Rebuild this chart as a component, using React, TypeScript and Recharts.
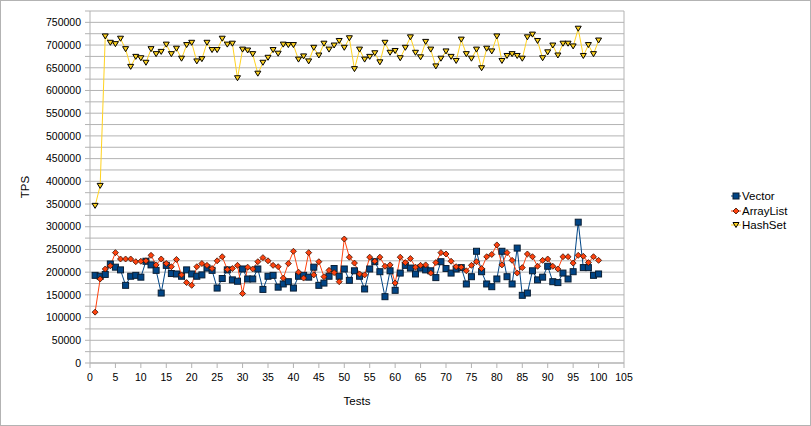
import { LineChart, Line, CartesianGrid, XAxis, YAxis, Legend, ReferenceLine } from 'recharts';

const tests = Array.from({ length: 100 }, (_, i) => i + 1);

const vectorTps = [
  193000, 191000, 195000, 218000, 211000, 205000, 171000, 191000, 193000, 189000,
  224000, 216000, 204000, 154000, 215000, 197000, 196000, 191000, 205000, 196000,
  191000, 194000, 209000, 204000, 165000, 186000, 205000, 183000, 180000, 207000,
  185000, 185000, 207000, 162000, 191000, 193000, 167000, 174000, 179000, 165000,
  191000, 193000, 189000, 211000, 171000, 176000, 191000, 208000, 191000, 207000,
  182000, 203000, 191000, 163000, 207000, 223000, 201000, 146000, 203000, 160000,
  198000, 215000, 209000, 196000, 209000, 205000, 203000, 188000, 223000, 208000,
  198000, 207000, 210000, 174000, 190000, 246000, 201000, 174000, 168000, 185000,
  246000, 190000, 174000, 253000, 149000, 154000, 203000, 183000, 189000, 213000,
  179000, 177000, 198000, 185000, 201000, 310000, 210000, 210000, 193000, 196000,
];

const arrayListTps = [
  112000, 185000, 207000, 214000, 243000, 229000, 229000, 229000, 223000, 224000,
  225000, 237000, 216000, 229000, 219000, 212000, 228000, 194000, 177000, 171000,
  212000, 219000, 215000, 208000, 225000, 234000, 206000, 208000, 215000, 153000,
  211000, 207000, 223000, 232000, 225000, 215000, 212000, 187000, 219000, 246000,
  200000, 187000, 243000, 194000, 223000, 190000, 204000, 199000, 179000, 273000,
  233000, 220000, 196000, 194000, 233000, 224000, 233000, 213000, 216000, 176000,
  233000, 221000, 230000, 211000, 215000, 216000, 198000, 221000, 243000, 240000,
  224000, 212000, 211000, 203000, 215000, 223000, 208000, 234000, 239000, 260000,
  216000, 243000, 226000, 198000, 210000, 240000, 234000, 213000, 226000, 229000,
  213000, 207000, 234000, 234000, 220000, 237000, 235000, 221000, 234000, 226000,
];

const hashSetTps = [
  346000, 390000, 719000, 705000, 702000, 714000, 691000, 652000, 674000, 671000,
  661000, 691000, 680000, 685000, 701000, 680000, 692000, 670000, 700000, 705000,
  664000, 669000, 705000, 689000, 689000, 714000, 701000, 703000, 627000, 690000,
  688000, 680000, 637000, 661000, 672000, 689000, 681000, 701000, 700000, 700000,
  668000, 675000, 664000, 694000, 677000, 703000, 690000, 699000, 709000, 694000,
  715000, 647000, 690000, 668000, 674000, 682000, 662000, 705000, 683000, 687000,
  671000, 694000, 717000, 683000, 673000, 707000, 690000, 653000, 670000, 686000,
  674000, 665000, 712000, 680000, 670000, 690000, 649000, 692000, 686000, 719000,
  665000, 676000, 680000, 676000, 670000, 717000, 723000, 709000, 671000, 684000,
  699000, 677000, 703000, 703000, 697000, 736000, 676000, 700000, 680000, 710000,
];

const xTicks = [0, 5, 10, 15, 20, 25, 30, 35, 40, 45, 50, 55, 60, 65, 70, 75, 80, 85, 90, 95, 100, 105];
const yTicks = Array.from({ length: 32 }, (_, i) => i * 25000);

const data = tests.map((t, i) => ({
  test: t,
  Vector: vectorTps[i],
  ArrayList: arrayListTps[i],
  HashSet: hashSetTps[i],
}));

const FONT = "'Liberation Sans', Arial, sans-serif";
const GRID = '#b3b3b3';

const squareDot = (p: any) => (
  <rect key={p.index} x={p.cx - 3} y={p.cy - 3} width={6} height={6} fill="#004586" stroke="#0a1e33" strokeWidth={1} />
);

const diamondDot = (p: any) => (
  <polygon
    key={p.index}
    points={`${p.cx},${p.cy - 3} ${p.cx + 3},${p.cy} ${p.cx},${p.cy + 3} ${p.cx - 3},${p.cy}`}
    fill="#ff420e"
    stroke="#3a1000"
    strokeWidth={0.8}
  />
);

const triangleDot = (p: any) => (
  <polygon
    key={p.index}
    points={`${p.cx - 3},${p.cy - 2.5} ${p.cx + 3},${p.cy - 2.5} ${p.cx},${p.cy + 2.5}`}
    fill="#ffd320"
    stroke="#000"
    strokeWidth={1}
  />
);

const legendItems = [
  { name: 'Vector', color: '#004586', shape: 'square' },
  { name: 'ArrayList', color: '#ff420e', shape: 'diamond' },
  { name: 'HashSet', color: '#ffd320', shape: 'triangle' },
];

const LegendIcon = ({ color, shape }: any) => (
  <svg width={10} height={8} style={{ display: 'block' }}>
    <line x1={0} y1={4} x2={10} y2={4} stroke={color} strokeWidth={1} />
    {shape === 'square' && <rect x={2} y={1} width={6} height={6} fill={color} stroke="#0a1e33" />}
    {shape === 'diamond' && <polygon points="5,1 8,4 5,7 2,4" fill={color} stroke="#3a1000" strokeWidth={0.8} />}
    {shape === 'triangle' && <polygon points="2,1.5 8,1.5 5,6.5" fill={color} stroke="#000" />}
  </svg>
);

const renderLegend = () => (
  <div style={{ fontFamily: FONT, fontSize: 11.5, color: '#000' }}>
    {legendItems.map((it) => (
      <div key={it.name} style={{ display: 'flex', alignItems: 'center', height: 14.5 }}>
        <LegendIcon color={it.color} shape={it.shape} />
        <span style={{ marginLeft: 1 }}>{it.name}</span>
      </div>
    ))}
  </div>
);

const App = () => {
  return (
    <div style={{ position: 'absolute', left: 0, top: 0, width: 811, height: 426, background: '#fff' }}>
      <LineChart width={811} height={426} data={data} margin={{ top: 11, right: 107, bottom: 17, left: 10 }}>
        <CartesianGrid stroke={GRID} vertical={false} />
        <XAxis
          dataKey="test"
          type="number"
          domain={[0, 105]}
          ticks={xTicks}
          interval={0}
          height={46}
          stroke={GRID}
          tickSize={5}
          tickMargin={6}
          tick={{ fill: '#000', fontSize: 10.5, fontFamily: FONT }}
          label={{ value: 'Tests', position: 'insideBottom', offset: 4, fill: '#000', fontSize: 11.5, fontFamily: FONT }}
        />
        <YAxis
          type="number"
          domain={[0, 775000]}
          ticks={yTicks}
          interval={0}
          width={80}
          stroke={GRID}
          tickSize={5}
          tickMargin={4}
          tickFormatter={(v: number) => (v % 50000 === 0 ? String(v) : '')}
          tick={{ fill: '#000', fontSize: 10.5, fontFamily: FONT }}
          label={{ value: 'TPS', angle: -90, position: 'insideLeft', offset: 15, fill: '#000', fontSize: 11.5, fontFamily: FONT, style: { textAnchor: 'middle' } }}
        />
        <ReferenceLine x={105} stroke={GRID} />
        <Line type="linear" dataKey="Vector" stroke="#004586" strokeWidth={1} dot={squareDot} isAnimationActive={false} />
        <Line type="linear" dataKey="ArrayList" stroke="#ff420e" strokeWidth={1} dot={diamondDot} isAnimationActive={false} />
        <Line type="linear" dataKey="HashSet" stroke="#ffd320" strokeWidth={1} dot={triangleDot} isAnimationActive={false} />
        <Legend
          layout="horizontal"
          verticalAlign="middle"
          align="right"
          content={renderLegend}
          wrapperStyle={{ left: 731, top: 189, right: 'auto', bottom: 'auto', width: 80, height: 46 }}
        />
      </LineChart>
      <div style={{ position: 'absolute', inset: 0, border: `1px solid ${GRID}`, boxSizing: 'border-box', pointerEvents: 'none' }} />
    </div>
  );
};

export default App;
